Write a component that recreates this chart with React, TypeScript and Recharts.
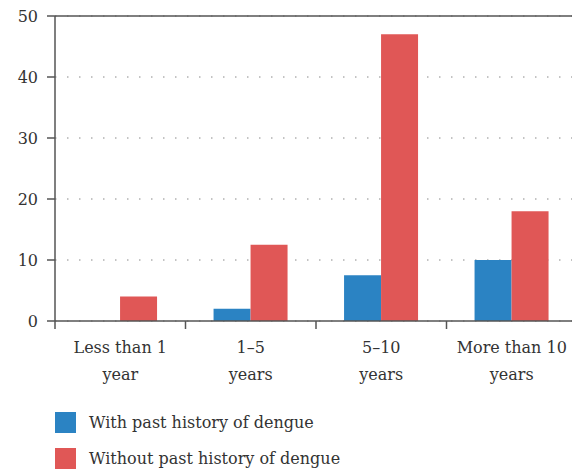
import React from 'react';
import { BarChart, Bar, XAxis, YAxis, CartesianGrid } from 'recharts';

// tick labels, one entry per line
const categoryLines = [
  ['Less than 1', 'year'],
  ['1–5', 'years'],
  ['5–10', 'years'],
  ['More than 10', 'years'],
];
const categories = categoryLines.map((l) => l.join(' '));

const withHistory = [0, 2, 7.5, 10];
const withoutHistory = [4, 12.5, 47, 18];

const yTicks = [0, 10, 20, 30, 40, 50];

const seriesNames = ['With past history of dengue', 'Without past history of dengue'];
const seriesColors = ['#2b83c3', '#e05756'];

const data = categories.map((name, i) => ({
  name,
  withHistory: withHistory[i],
  withoutHistory: withoutHistory[i],
}));

const W = 572;
const H = 390;
const MARGIN = { top: 7, right: 2, bottom: 17, left: 0 };
const Y_WIDTH = 47;
const STEP = (W - MARGIN.left - MARGIN.right - Y_WIDTH - 1) / categories.length;

const FONT = '"DejaVu Serif", serif';
const FS = 16;
const AXIS = '#555';
const TEXT = '#333';

function XTick(props: any) {
  const { x, y, payload, index } = props;
  const lines = categoryLines[index] ?? [String(payload.value)];
  const top = y - 8;
  const left = x - STEP / 2;
  return (
    <g>
      <line x1={left} x2={left} y1={top} y2={top + 8} stroke={AXIS} strokeWidth={1.5} />
      {index === categories.length - 1 && (
        <line x1={x + STEP / 2} x2={x + STEP / 2} y1={top} y2={top + 8} stroke={AXIS} strokeWidth={1.5} />
      )}
      <text x={x} y={top} textAnchor="middle" fontFamily={FONT} fontSize={FS} fill={TEXT}>
        {lines.map((t, i) => (
          <tspan key={i} x={x} dy={i === 0 ? 32 : 27}>
            {t}
          </tspan>
        ))}
      </text>
    </g>
  );
}

export default function App() {
  return (
    <div>
      <BarChart width={W} height={H} data={data} margin={MARGIN} barCategoryGap="21.5%" barGap={0}>
        <CartesianGrid
          xAxisId="main"
          yAxisId="left"
          vertical={false}
          stroke="#888"
          strokeDasharray="1.5 10.5"
        />
        <XAxis
          xAxisId="main"
          dataKey="name"
          height={60}
          axisLine={{ stroke: AXIS, strokeWidth: 1.5 }}
          tickLine={false}
          tick={<XTick />}
          interval={0}
        />
        <XAxis
          xAxisId="top"
          dataKey="name"
          orientation="top"
          height={1}
          tick={false}
          tickLine={false}
          axisLine={{ stroke: AXIS, strokeWidth: 1.5 }}
        />
        <YAxis
          yAxisId="left"
          width={Y_WIDTH}
          domain={[0, 50]}
          ticks={yTicks}
          interval={0}
          tickSize={8}
          tickMargin={9}
          axisLine={{ stroke: AXIS, strokeWidth: 1.5 }}
          tickLine={{ stroke: AXIS, strokeWidth: 1.5 }}
          tick={{ fontFamily: FONT, fontSize: FS, fill: TEXT }}
        />
        <YAxis
          yAxisId="right"
          orientation="right"
          width={1}
          domain={[0, 50]}
          tick={false}
          tickLine={false}
          axisLine={{ stroke: AXIS, strokeWidth: 1.5 }}
        />
        <Bar xAxisId="main" yAxisId="left" dataKey="withHistory" name={seriesNames[0]} fill={seriesColors[0]} isAnimationActive={false} />
        <Bar xAxisId="main" yAxisId="left" dataKey="withoutHistory" name={seriesNames[1]} fill={seriesColors[1]} isAnimationActive={false} />
      </BarChart>
      <div style={{ paddingLeft: 47, marginTop: 14, fontFamily: FONT, fontSize: FS, color: TEXT }}>
        {seriesNames.map((n, i) => (
          <div key={n} style={{ display: 'flex', alignItems: 'center', height: 21, marginBottom: 15 }}>
            <span style={{ width: 21, height: 21, background: seriesColors[i], display: 'inline-block' }} />
            <span style={{ marginLeft: 13 }}>{n}</span>
          </div>
        ))}
      </div>
    </div>
  );
}
